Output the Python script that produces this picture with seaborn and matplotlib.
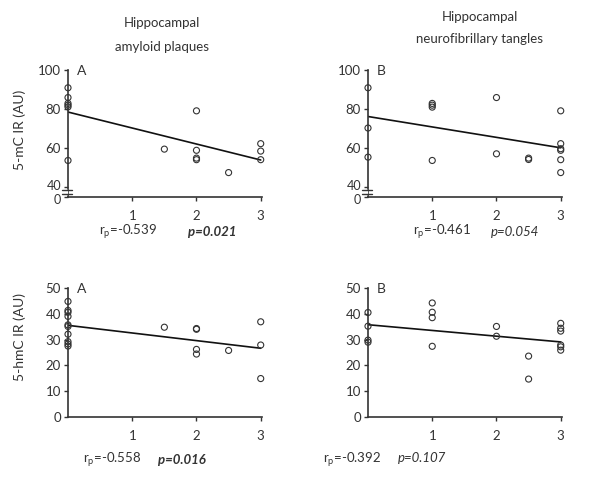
import matplotlib
matplotlib.use("Agg")
import matplotlib.pyplot as plt
import matplotlib.transforms as mtransforms
import seaborn as sns

# 5-mC vs plaques (A) / tangles (B)
mc_plaq_x = [0, 0, 0, 0, 0, 0, 1.5, 2, 2, 2, 2, 2.5, 3, 3, 3]
mc_plaq_y = [90.9, 85.9, 82.9, 82.0, 81.1, 53.7, 59.5, 79.1, 58.9, 54.9, 54.1, 47.5, 62.3, 58.5, 54.1]
mc_tang_x = [0, 0, 0, 1, 1, 1, 1, 2, 2, 2.5, 2.5, 3, 3, 3, 3, 3, 3]
mc_tang_y = [90.9, 70.3, 55.4, 82.9, 82.0, 81.0, 53.7, 85.9, 57.1, 54.9, 54.2, 79.1, 62.3, 59.7, 58.9, 54.1, 47.5]

# 5-hmC vs plaques (A) / tangles (B)
hmc_plaq_x = [0, 0, 0, 0, 0, 0, 0, 0, 0, 0, 1.5, 2, 2, 2, 2, 2.5, 3, 3, 3]
hmc_plaq_y = [44.8, 41.3, 40.6, 39.0, 35.7, 35.1, 32.1, 29.2, 28.3, 27.5, 34.8, 34.3, 34.0, 26.2, 24.4, 25.8, 36.9, 27.9, 14.9]
hmc_tang_x = [0, 0, 0, 0, 1, 1, 1, 1, 2, 2, 2.5, 2.5, 3, 3, 3, 3, 3, 3]
hmc_tang_y = [40.5, 35.2, 29.8, 29.0, 44.2, 40.6, 38.5, 27.4, 35.1, 31.3, 23.6, 14.7, 36.3, 34.4, 33.3, 27.9, 27.2, 25.9]

r_labels = ["-0.539", "-0.461", "-0.558", "-0.392"]
p_labels = ["p=0.021", "p=0.054", "p=0.016", "p=0.107"]
p_bold = [True, False, True, False]

mc_ticks = [35, 40, 60, 80, 100]
mc_ticklabels = ["0", "40", "60", "80", "100"]
hmc_ticks = [0, 10, 20, 30, 40, 50]

sns.set_theme(style="ticks")
plt.rcParams["font.family"] = ["Lato", "DejaVu Sans"]
plt.rcParams["mathtext.fontset"] = "custom"
plt.rcParams["mathtext.rm"] = "Lato"
txt = "#333333"

fig = plt.figure(figsize=(6.02, 4.8), dpi=100)

W, H = 602, 480
def add_ax(x0, x1, ytop, ybot):
    return fig.add_axes([x0 / W, 1 - ybot / H, (x1 - x0) / W, (ybot - ytop) / H])

axes = [add_ax(68, 262, 70, 197), add_ax(368, 562, 70, 197),
        add_ax(68, 262, 288, 417), add_ax(368, 562, 288, 417)]
data = [(mc_plaq_x, mc_plaq_y), (mc_tang_x, mc_tang_y),
        (hmc_plaq_x, hmc_plaq_y), (hmc_tang_x, hmc_tang_y)]
letters = ["A", "B", "A", "B"]

for i, (ax, (x, y)) in enumerate(zip(axes, data)):
    sns.regplot(x=x, y=y, ax=ax, scatter=False, ci=None, truncate=True,
                line_kws=dict(color="#111111", lw=1.2))
    ax.scatter(x, y, s=19, facecolors="none", edgecolors="#333333", linewidths=0.8, zorder=3, clip_on=False)
    ax.set_xlim(0, 3.02)
    ax.set_xticks([1, 2, 3])
    for s in ("top", "right"):
        ax.spines[s].set_visible(False)
    for s in ("left", "bottom"):
        ax.spines[s].set_color("#333333")
        ax.spines[s].set_linewidth(1.2)
    ax.tick_params(axis="both", colors="#333333", labelcolor=txt, labelsize=9.5,
                   length=3, width=1.0)
    ax.tick_params(axis="x", pad=6)
    ax.tick_params(axis="y", pad=2)
    if i < 2:
        ax.set_ylim(35, 100)
        ax.set_yticks(mc_ticks)
        ax.set_yticklabels(mc_ticklabels)
        # nudge the crowded "0" / "40" labels apart a little
        labs = ax.get_yticklabels()
        for lab, dy in ((labs[0], -2), (labs[1], 2)):
            lab.set_fontsize(9)
            lab.set_transform(lab.get_transform() +
                              mtransforms.ScaledTranslation(0, dy / 100, fig.dpi_scale_trans))
        # axis break marks
        ax.plot([-0.012, -0.012], [36.7, 38.3], transform=ax.get_yaxis_transform(),
                color="white", lw=3, clip_on=False, zorder=5)
        for yb in (36.5, 38.5):
            ax.plot([-0.03, 0.02], [yb, yb], transform=ax.get_yaxis_transform(),
                    color="#333333", lw=1.0, clip_on=False, zorder=6)
    else:
        ax.set_ylim(0, 50)
        ax.set_yticks(hmc_ticks)
    ax.text(0.07, 0.99, letters[i], transform=ax.transAxes, ha="center", va="center",
            fontsize=10, color=txt)

# titles
fig.text(162 / W, 1 - 23 / H, "Hippocampal", ha="center", va="center", fontsize=9.5, color=txt)
fig.text(162 / W, 1 - 47 / H, "amyloid plaques", ha="center", va="center", fontsize=9.5, color=txt)
fig.text(480 / W, 1 - 17 / H, "Hippocampal", ha="center", va="center", fontsize=9.5, color=txt)
fig.text(480 / W, 1 - 39 / H, "neurofibrillary tangles", ha="center", va="center", fontsize=9.5, color=txt)

# y labels
fig.text(20 / W, 1 - 130 / H, "5-mC IR (AU)", rotation=90, ha="center", va="center", fontsize=10, color=txt)
fig.text(20 / W, 1 - 337 / H, "5-hmC IR (AU)", rotation=90, ha="center", va="center", fontsize=10, color=txt)

# statistics
r_pos = [(128, 232), (442, 232), (112, 460), (352, 460)]
p_pos = [(212, 232), (515, 232), (182, 460), (422, 458)]
for r, p, b, (rx, ry), (px, py) in zip(r_labels, p_labels, p_bold, r_pos, p_pos):
    fig.text(rx / W, 1 - ry / H, r"r$_\mathrm{p}$=" + r, ha="center", va="center", fontsize=9.5, color=txt)
    fig.text(px / W, 1 - py / H, p, ha="center", va="center", fontsize=9.5, color=txt,
             style="italic", weight="bold" if b else "normal")

fig.savefig("out.png", dpi=100)
